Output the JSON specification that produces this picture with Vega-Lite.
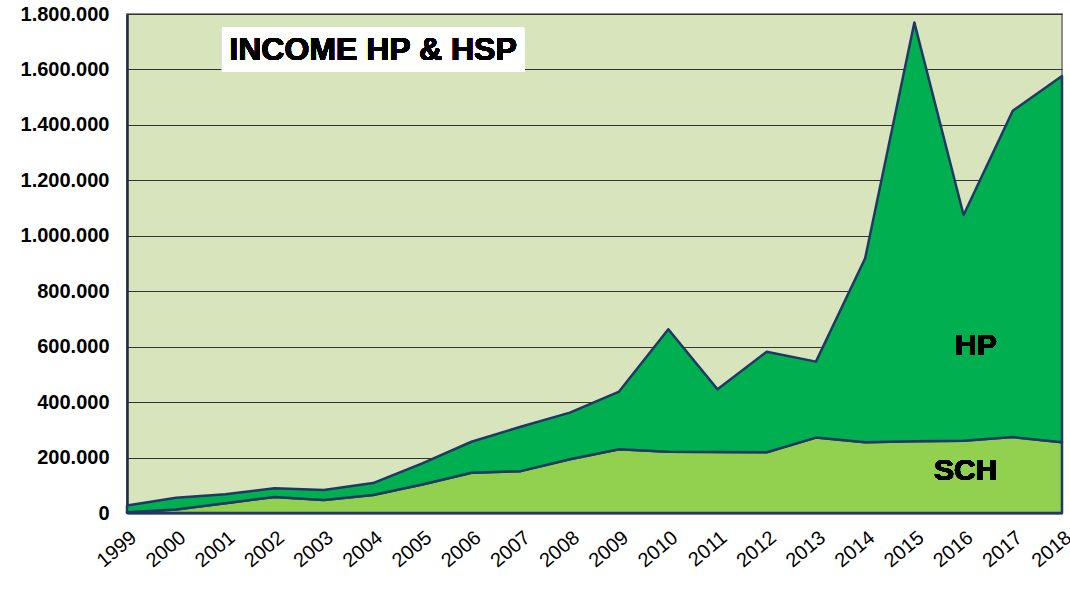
{
  "$schema": "https://vega.github.io/schema/vega-lite/v6.json",
  "width": 935,
  "height": 499,
  "autosize": {"type": "none"},
  "padding": {"left": 127, "top": 14, "right": 8, "bottom": 90},
  "background": "white",
  "config": {
    "view": {"fill": "#D8E4BC", "stroke": "#8C8C8C", "strokeWidth": 2},
    "font": "Liberation Sans"
  },
  "data": {
    "values": [
      {"year": 1999, "series": "SCH", "value": 3000}, {"year": 1999, "series": "HP", "value": 24000},
      {"year": 2000, "series": "SCH", "value": 13000}, {"year": 2000, "series": "HP", "value": 42000},
      {"year": 2001, "series": "SCH", "value": 35000}, {"year": 2001, "series": "HP", "value": 33000},
      {"year": 2002, "series": "SCH", "value": 58000}, {"year": 2002, "series": "HP", "value": 31000},
      {"year": 2003, "series": "SCH", "value": 47000}, {"year": 2003, "series": "HP", "value": 36000},
      {"year": 2004, "series": "SCH", "value": 65000}, {"year": 2004, "series": "HP", "value": 43000},
      {"year": 2005, "series": "SCH", "value": 103000}, {"year": 2005, "series": "HP", "value": 76000},
      {"year": 2006, "series": "SCH", "value": 145000}, {"year": 2006, "series": "HP", "value": 112000},
      {"year": 2007, "series": "SCH", "value": 151000}, {"year": 2007, "series": "HP", "value": 160000},
      {"year": 2008, "series": "SCH", "value": 194000}, {"year": 2008, "series": "HP", "value": 168000},
      {"year": 2009, "series": "SCH", "value": 230000}, {"year": 2009, "series": "HP", "value": 208000},
      {"year": 2010, "series": "SCH", "value": 221000}, {"year": 2010, "series": "HP", "value": 442000},
      {"year": 2011, "series": "SCH", "value": 220000}, {"year": 2011, "series": "HP", "value": 226000},
      {"year": 2012, "series": "SCH", "value": 219000}, {"year": 2012, "series": "HP", "value": 363000},
      {"year": 2013, "series": "SCH", "value": 272000}, {"year": 2013, "series": "HP", "value": 274000},
      {"year": 2014, "series": "SCH", "value": 255000}, {"year": 2014, "series": "HP", "value": 664000},
      {"year": 2015, "series": "SCH", "value": 259000}, {"year": 2015, "series": "HP", "value": 1510000},
      {"year": 2016, "series": "SCH", "value": 261000}, {"year": 2016, "series": "HP", "value": 814000},
      {"year": 2017, "series": "SCH", "value": 274000}, {"year": 2017, "series": "HP", "value": 1177000},
      {"year": 2018, "series": "SCH", "value": 255000}, {"year": 2018, "series": "HP", "value": 1321000}
    ]
  },
  "layer": [
    {
      "mark": {"type": "area", "opacity": 1, "fillOpacity": 1, "stroke": "#1F3864", "strokeWidth": 2.5, "strokeJoin": "round"},
      "encoding": {
        "x": {
          "field": "year", "type": "quantitative",
          "scale": {"domain": [1999, 2018], "nice": false, "zero": false},
          "axis": {
            "values": [1999, 2000, 2001, 2002, 2003, 2004, 2005, 2006, 2007, 2008, 2009, 2010, 2011, 2012, 2013, 2014, 2015, 2016, 2017, 2018],
            "format": "d", "title": null, "grid": false, "ticks": false,
            "labelAngle": -40, "labelAlign": "right", "labelBaseline": "top",
            "labelFontSize": 20, "labelColor": "black", "labelPadding": 14,
            "domainColor": "#1F2A44", "domainWidth": 2, "labelOverlap": false,
            "labelFont": "Liberation Sans", "labelBound": false, "labelFlush": false
          }
        },
        "y": {
          "field": "value", "type": "quantitative", "stack": "zero",
          "scale": {"domain": [0, 1800000], "nice": false},
          "axis": {
            "values": [0, 200000, 400000, 600000, 800000, 1000000, 1200000, 1400000, 1600000, 1800000],
            "labelExpr": "replace(format(datum.value, ','), /,/g, '.')",
            "title": null, "ticks": false, "gridColor": "#333333", "gridWidth": 1.2, "gridOpacity": 1,
            "labelFontSize": 20, "labelFontWeight": "bold", "labelColor": "black", "labelPadding": 18,
            "domainColor": "#1F2A44", "domainWidth": 2.5, "labelFont": "Liberation Sans"
          }
        },
        "color": {
          "field": "series", "type": "nominal",
          "scale": {"domain": ["SCH", "HP"], "range": ["#92D050", "#00B050"]},
          "legend": null
        },
        "order": {"field": "series", "sort": "descending"}
      }
    },
    {
      "mark": {"type": "rect", "color": "white"},
      "encoding": {
        "x": {"datum": 2000.93, "type": "quantitative"},
        "x2": {"datum": 2007.07},
        "y": {"datum": 1750000, "type": "quantitative"},
        "y2": {"datum": 1591000}
      }
    },
    {
      "mark": {"type": "text", "fontSize": 32, "fontWeight": "bold", "color": "black", "align": "center", "baseline": "middle", "font": "Liberation Sans"},
      "encoding": {
        "x": {"datum": 2004.0, "type": "quantitative"},
        "y": {"datum": 1670000, "type": "quantitative"},
        "text": {"value": "INCOME HP & HSP"}
      }
    },
    {
      "mark": {"type": "text", "fontSize": 30, "fontWeight": "bold", "color": "black", "align": "center", "baseline": "middle", "font": "Liberation Sans"},
      "encoding": {
        "x": {"datum": 2016.25, "type": "quantitative"},
        "y": {"datum": 603000, "type": "quantitative"},
        "text": {"value": "HP"}
      }
    },
    {
      "mark": {"type": "text", "fontSize": 30, "fontWeight": "bold", "color": "black", "align": "center", "baseline": "middle", "font": "Liberation Sans"},
      "encoding": {
        "x": {"datum": 2016.04, "type": "quantitative"},
        "y": {"datum": 150000, "type": "quantitative"},
        "text": {"value": "SCH"}
      }
    }
  ]
}
